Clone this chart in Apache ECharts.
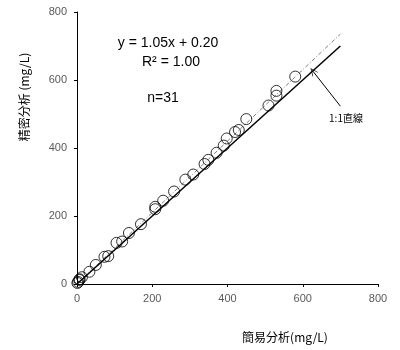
<!DOCTYPE html>
<html>
<head>
<meta charset="utf-8">
<script src="https://cdn.jsdelivr.net/npm/echarts@6/dist/echarts.min.js"></script>
<style>
  html, body { margin: 0; padding: 0; background: #fff; }
  #chart { width: 400px; height: 350px; }
</style>
</head>
<body>
<div id="chart"></div>
<script>
// Simple analysis (x) vs precise analysis (y), mg/L
const simpleValues = [1, 3, 6, 7, 13, 33, 50, 73, 83, 105, 120, 138, 170, 208, 208, 229,
  258, 288, 309, 339, 349, 371, 390, 398, 420, 430, 450, 509, 530, 530, 580];
const preciseValues = [3, 6, 12, 14, 20, 36, 56, 80, 82, 121, 125, 150, 176, 220, 227, 245,
  272, 307, 322, 353, 365, 386, 407, 428, 447, 453, 485, 525, 554, 568, 610];

const axisTicks = [0, 200, 400, 600, 800];
const slope = 1.05;
const intercept = 0.20;
const lineEndX = 700;

const regressionLine = [[0, intercept], [lineEndX, slope * lineEndX + intercept]];
const identityLine = [[0, 0], [lineEndX, lineEndX]];
// arrow from the label towards the 1:1 line
const arrowFrom = [700, 523];
const arrowTo = [627, 626];

const points = simpleValues.map((v, i) => [v, preciseValues[i]]);

const chart = echarts.init(document.getElementById('chart'));
const axisCommon = {
  type: 'value',
  min: axisTicks[0],
  max: axisTicks[axisTicks.length - 1],
  interval: axisTicks[1] - axisTicks[0],
  splitLine: { show: false },
  axisLine: { show: true, lineStyle: { color: '#000', width: 1 } },
  axisTick: { show: true, length: 3, lineStyle: { color: '#000' } },
  axisLabel: { color: '#595959', fontSize: 11, fontFamily: 'Liberation Sans' }
};

chart.setOption({
  animation: false,
  backgroundColor: '#fff',
  grid: { left: 77, right: 22, top: 12, bottom: 66 },
  xAxis: Object.assign({}, axisCommon, { axisLabel: Object.assign({}, axisCommon.axisLabel, { margin: 9 }) }),
  yAxis: Object.assign({}, axisCommon, { axisLabel: Object.assign({}, axisCommon.axisLabel, { margin: 10 }) }),
  series: [
    {
      type: 'line',
      data: regressionLine,
      symbol: 'none',
      lineStyle: { color: '#7f7f7f', width: 1, type: [4, 2, 1, 2] },
      z: 2
    },
    {
      type: 'line',
      data: identityLine,
      symbol: 'none',
      lineStyle: { color: '#000', width: 1.5 },
      z: 3,
      markLine: {
        silent: true,
        symbol: ['none', 'path://M0,10 L5,0 L10,10 L9,10 L5,2 L1,10 Z'],
        symbolSize: [7, 8],
        lineStyle: { color: '#000', width: 1, type: 'solid' },
        label: { show: false },
        data: [[{ coord: arrowFrom }, { coord: arrowTo }]]
      }
    },
    {
      type: 'scatter',
      data: points,
      symbol: 'circle',
      symbolSize: 11,
      itemStyle: { color: 'rgba(255,255,255,0)', borderColor: '#000', borderWidth: 1 },
      z: 4
    }
  ],
  graphic: [
    {
      type: 'text',
      style: { text: 'y = 1.05x + 0.20', x: 168, y: 43, fill: '#000', font: '14px "Liberation Sans"', align: 'center', verticalAlign: 'middle' }
    },
    {
      type: 'text',
      style: { text: 'R² = 1.00', x: 171, y: 62, fill: '#000', font: '14px "Liberation Sans"', align: 'center', verticalAlign: 'middle' }
    },
    {
      type: 'text',
      style: { text: 'n=31', x: 163, y: 98, fill: '#000', font: '14px "Liberation Sans"', align: 'center', verticalAlign: 'middle' }
    },
    {
      type: 'text',
      style: { text: '1:1直線', x: 346, y: 118, fill: '#000', font: '10px "Noto Sans CJK JP"', align: 'center', verticalAlign: 'middle' }
    },
    {
      type: 'text',
      style: { text: '簡易分析(mg/L)', x: 285, y: 337, fill: '#000', font: '12px "Noto Sans CJK JP"', align: 'center', verticalAlign: 'middle' }
    },
    {
      type: 'text',
      x: 24, y: 97, rotation: Math.PI / 2,
      style: { text: '精密分析 (mg/L)', x: 0, y: 0, fill: '#000', font: '12px "Noto Sans CJK JP"', align: 'center', verticalAlign: 'middle' }
    }
  ]
});
</script>
</body>
</html>
